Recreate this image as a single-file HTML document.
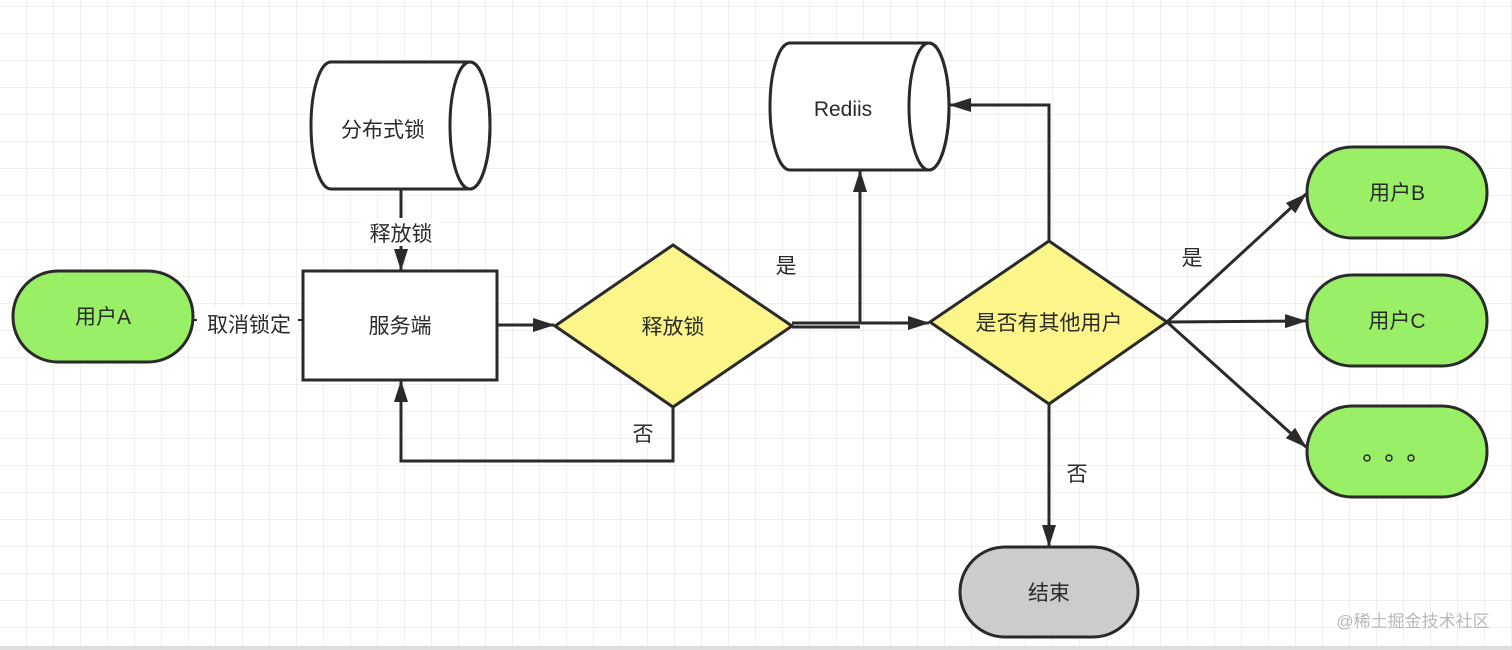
<!DOCTYPE html>
<html><head><meta charset="utf-8"><style>
html,body{margin:0;padding:0;width:1512px;height:650px;overflow:hidden;background:#fff}
svg{display:block}
text{font-family:"Liberation Sans","Noto Sans CJK SC",sans-serif;fill:#2a2a2a}
</style></head><body>
<svg width="1512" height="650" xmlns="http://www.w3.org/2000/svg">
<defs>
<pattern id="g" x="-1" y="6" width="27" height="27" patternUnits="userSpaceOnUse">
<path d="M0 0H27M0 0V27" stroke="#ececec" stroke-width="1.5" fill="none"/>
</pattern>
<marker id="a" markerWidth="22" markerHeight="14" refX="21" refY="7" orient="auto" markerUnits="userSpaceOnUse" viewBox="0 0 22 14">
<path d="M0,0 L22,7 L0,14 z" fill="#2a2a2a"/>
</marker>
</defs>
<rect width="1512" height="650" fill="url(#g)"/>
<g stroke="#2a2a2a" stroke-width="3" fill="none">
<rect x="13" y="271" width="180" height="91" rx="45" fill="#99f066"/>
<path d="M331,62 H470 A20,63.5 0 0 1 470,189 H331 A20,63.5 0 0 1 331,62 Z" fill="#fff"/>
<ellipse cx="470" cy="125.5" rx="20" ry="63.5"/>
<rect x="303" y="271" width="194" height="109" fill="#fff"/>
<polygon points="673,245 792,326 673,407 555,326" fill="#fbf58a"/>
<path d="M790,43 H929 A20,63.5 0 0 1 929,170 H790 A20,63.5 0 0 1 790,43 Z" fill="#fff"/>
<ellipse cx="929" cy="106.5" rx="20" ry="63.5"/>
<polygon points="1049,241 1167,322 1049,404 930,322" fill="#fbf58a"/>
<rect x="1307" y="147" width="180" height="91" rx="45" fill="#99f066"/>
<rect x="1307" y="275" width="180" height="91" rx="45" fill="#99f066"/>
<rect x="1307" y="406" width="180" height="91" rx="45" fill="#99f066"/>
<rect x="960" y="547" width="178" height="90" rx="45" fill="#cccccc"/>
<path d="M193,320 H303" stroke-width="2" stroke-dasharray="4 3"/>
<path d="M401,189 V270" marker-end="url(#a)"/>
<path d="M497,325 H554" marker-end="url(#a)"/>
<path d="M673,407 V461 H401 V381" marker-end="url(#a)"/>
<path d="M792,323 H860 V171" marker-end="url(#a)"/>
<path d="M792,327 H860 M860,323 H929" marker-end="url(#a)"/>
<path d="M1049,241 V105 H950" marker-end="url(#a)"/>
<path d="M1049,404 V546" marker-end="url(#a)"/>
<path d="M1167,322 L1306,194" marker-end="url(#a)"/>
<path d="M1167,322 L1306,321" marker-end="url(#a)"/>
<path d="M1167,322 L1306,447" marker-end="url(#a)"/>
</g>
<rect x="200" y="308" width="98" height="26" fill="#fff"/>
<rect x="362" y="218" width="78" height="28" fill="#fff"/>
<g fill="none" stroke="#2a2a2a" stroke-width="1.5">
<circle cx="1367" cy="458" r="3"/><circle cx="1389" cy="458" r="3"/><circle cx="1411" cy="458" r="3"/>
</g>
<g font-size="21" text-anchor="middle">
<text x="103" y="324">用户A</text>
<text x="383" y="137">分布式锁</text>
<text x="400" y="333">服务端</text>
<text x="401" y="241">释放锁</text>
<text x="249" y="332">取消锁定</text>
<text x="673" y="334">释放锁</text>
<text x="643" y="441">否</text>
<text x="786" y="273">是</text>
<text x="843" y="116">Rediis</text>
<text x="1049" y="330">是否有其他用户</text>
<text x="1192" y="265">是</text>
<text x="1077" y="481">否</text>
<text x="1397" y="200">用户B</text>
<text x="1397" y="328">用户C</text>
<text x="1049" y="600">结束</text>
</g>
<text x="1413" y="627" font-size="17" text-anchor="middle" style="fill:#b8b8b8">@稀土掘金技术社区</text>
<rect x="0" y="646" width="1512" height="4" fill="#ddd"/>
</svg>
</body></html>
